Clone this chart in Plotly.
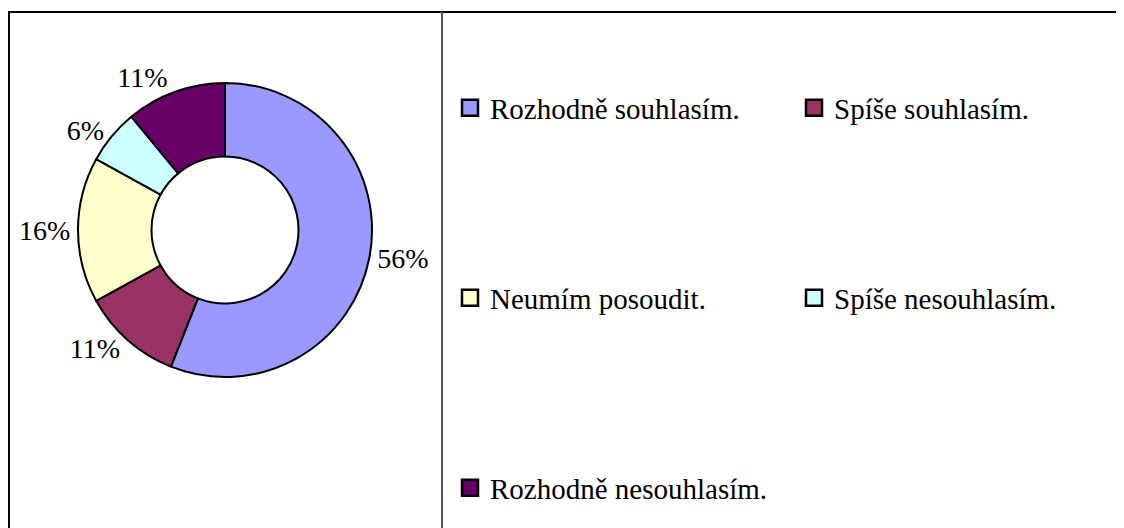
import plotly.graph_objects as go

categories = ["Rozhodně souhlasím.", "Spíše souhlasím.", "Neumím posoudit.",
              "Spíše nesouhlasím.", "Rozhodně nesouhlasím."]
values = [56, 11, 16, 6, 11]
colors = ["#9999FF", "#993366", "#FFFFCC", "#CCFFFF", "#660066"]

W, H = 1124, 528
FONT = "Liberation Serif"

fig = go.Figure()

cx, cy, r = 217, 222, 147
fig.add_trace(go.Pie(
    labels=categories, values=values, sort=False, direction="clockwise", rotation=0,
    hole=0.5,
    marker=dict(colors=colors, line=dict(color="black", width=2)),
    textinfo="percent", textposition="outside",
    texttemplate="%{percent:.0%}",
    textfont=dict(family=FONT, size=28, color="black"),
    domain=dict(x=[(cx - r) / W, (cx + r) / W], y=[(H - cy - r) / H, (H - cy + r) / H]),
    showlegend=False, hoverinfo="label+percent",
))

legend_names = ["legend", "legend2", "legend3", "legend4", "legend5"]
for cat, col, lg in zip(categories, colors, legend_names):
    fig.add_trace(go.Scatter(
        x=[None], y=[None], mode="markers", name=cat, legend=lg,
        marker=dict(symbol="square", size=17, color=col, line=dict(color="black", width=2.5)),
        showlegend=True,
    ))

# legend placement (pixels): column x, row y
col_x = [442, 786]
row_y = [100, 290, 480]
slots = [(0, 0), (1, 0), (0, 1), (1, 1), (0, 2)]

legends = {}
for lg, (ci, ri) in zip(legend_names, slots):
    legends[lg] = dict(orientation="v", xanchor="left", yanchor="middle",
                       x=col_x[ci] / W, y=1 - row_y[ri] / H,
                       font=dict(family=FONT, size=29, color="black"),
                       bgcolor="rgba(0,0,0,0)", itemclick=False, itemdoubleclick=False)

fig.update_layout(
    width=W, height=H,
    margin=dict(l=0, r=0, t=0, b=0),
    paper_bgcolor="white", plot_bgcolor="white",
    xaxis=dict(visible=False), yaxis=dict(visible=False),
    shapes=[
        dict(type="rect", xref="paper", yref="paper", x0=1 / W, x1=1.05, y0=-0.05, y1=1 - 4 / H,
             line=dict(color="black", width=2), fillcolor="rgba(0,0,0,0)"),
        dict(type="line", xref="paper", yref="paper", x0=434 / W, x1=434 / W, y0=-0.05, y1=1 - 4 / H,
             line=dict(color="#555555", width=2)),
    ],
    **legends,
)

fig.write_html("out.html")
